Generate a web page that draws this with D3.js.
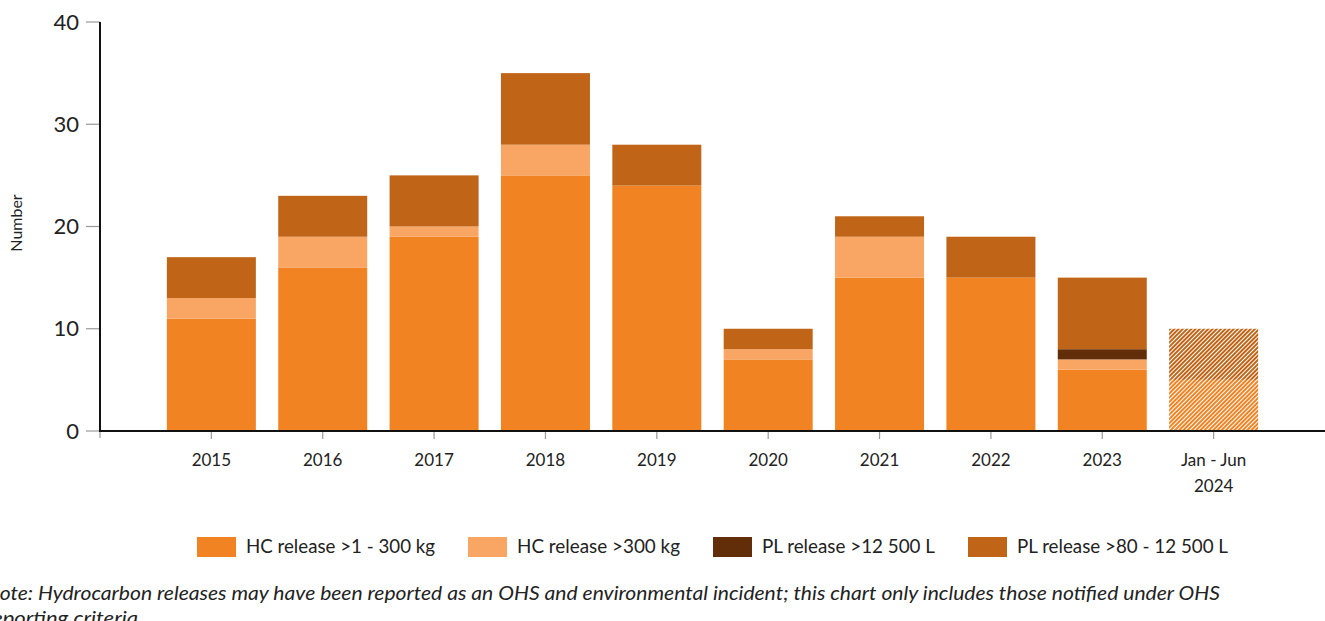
<!DOCTYPE html>
<html><head><meta charset="utf-8">
<script src="https://cdn.jsdelivr.net/npm/d3@7"></script>
<style>body{margin:0;background:#fff;}svg{display:block;font-family:Lato,"Open Sans",sans-serif;}</style>
</head><body>
<svg id="c" width="1325" height="621"></svg>
<script>
const categories = ["2015","2016","2017","2018","2019","2020","2021","2022","2023","Jan - Jun 2024"];
const hcSmall  = [11,16,19,25,24,7,15,15,6,5];
const hcLarge  = [2,3,1,3,0,1,4,0,1,0];
const plLarge  = [0,0,0,0,0,0,0,0,1,0];
const plSmall  = [4,4,5,7,4,2,2,4,7,5];
const seriesNames = ["HC release >1 - 300 kg","HC release >300 kg","PL release >12 500 L","PL release >80 - 12 500 L"];
const seriesColors = ["#F28323","#F9A563","#622E0A","#C06517"];
const yTicks = [0,10,20,30,40];
const partialIndex = 9;

const svg = d3.select("#c");
const defs = svg.append("defs");
seriesColors.forEach((c,i)=>{
  const p = defs.append("pattern").attr("id","hatch"+i).attr("patternUnits","userSpaceOnUse")
    .attr("width",3).attr("height",3).attr("patternTransform","rotate(45)");
  p.append("rect").attr("width",3).attr("height",3).attr("fill","#fff");
  p.append("rect").attr("width",2).attr("height",3).attr("fill",c);
});

const x = d3.scalePoint().domain(["_a",...categories,"_b"]).range([100,1325]);
const y = d3.scaleLinear().domain([0,40]).range([431,22]);
const barW = 89;

const data = categories.map((c,i)=>({cat:c,s0:hcSmall[i],s1:hcLarge[i],s2:plLarge[i],s3:plSmall[i]}));
const stack = d3.stack().keys(["s0","s1","s2","s3"])(data);

// y tick marks
svg.append("g").selectAll("line").data(yTicks).join("line")
  .attr("x1",86).attr("x2",100).attr("y1",d=>y(d)).attr("y2",d=>y(d))
  .attr("stroke","#999").attr("stroke-width",1.2);
svg.append("g").selectAll("text").data(yTicks).join("text")
  .attr("x",79).attr("y",d=>y(d)).attr("dy","0.35em").attr("text-anchor","end")
  .attr("font-size",22).attr("fill","#222").text(d=>d);

// bars
stack.forEach((layer,k)=>{
  svg.append("g").selectAll("rect").data(layer).join("rect")
    .attr("x",(d,i)=>x(categories[i])-barW/2)
    .attr("width",barW)
    .attr("y",d=>y(d[1]))
    .attr("height",d=>y(d[0])-y(d[1]))
    .attr("fill",(d,i)=> i===partialIndex ? `url(#hatch${k})` : seriesColors[k]);
});

// x ticks
svg.append("g").selectAll("line").data(categories).join("line")
  .attr("x1",d=>x(d)).attr("x2",d=>x(d)).attr("y1",431).attr("y2",439)
  .attr("stroke","#999").attr("stroke-width",1.2);
svg.append("line").attr("x1",100).attr("x2",100).attr("y1",431).attr("y2",438).attr("stroke","#999").attr("stroke-width",1.2);

// axes lines
svg.append("line").attr("x1",100).attr("x2",100).attr("y1",22).attr("y2",432).attr("stroke","#111").attr("stroke-width",2);
svg.append("line").attr("x1",99).attr("x2",1325).attr("y1",431).attr("y2",431).attr("stroke","#111").attr("stroke-width",2);

// x labels
const xl = svg.append("g").selectAll("text").data(categories).join("text")
  .attr("x",d=>x(d)).attr("y",466).attr("text-anchor","middle").attr("font-size",17).attr("fill","#222");
xl.each(function(d){
  const parts = d==="Jan - Jun 2024" ? ["Jan - Jun","2024"] : [d];
  d3.select(this).selectAll("tspan").data(parts).join("tspan")
    .attr("x",x(d)).attr("dy",(p,j)=>j===0?0:26).text(p=>p);
});

// y title
svg.append("text").attr("transform","translate(22,223) rotate(-90)").attr("text-anchor","middle")
  .attr("font-size",16).attr("fill","#222").text("Number");

// legend
const legX = [197,468,713,968];
const legLen = [189,163,173,211];
seriesNames.forEach((n,i)=>{
  svg.append("rect").attr("x",legX[i]).attr("y",537).attr("width",39).attr("height",20).attr("fill",seriesColors[i]);
  svg.append("text").attr("x",legX[i]+49).attr("y",547).attr("dy","0.35em").attr("font-size",18.5).attr("fill","#222")
    .attr("textLength",legLen[i]).attr("lengthAdjust","spacingAndGlyphs").text(n);
});

// note
svg.append("text").attr("x",-15).attr("y",600).attr("font-size",19).attr("font-style","italic").attr("fill","#222")
  .attr("textLength",1235).attr("lengthAdjust","spacingAndGlyphs")
  .text("Note: Hydrocarbon releases may have been reported as an OHS and environmental incident; this chart only includes those notified under OHS");
svg.append("text").attr("x",-15).attr("y",625).attr("font-size",19).attr("font-style","italic").attr("fill","#222")
  .attr("textLength",153).attr("lengthAdjust","spacingAndGlyphs")
  .text("reporting criteria");
</script>
</body></html>
